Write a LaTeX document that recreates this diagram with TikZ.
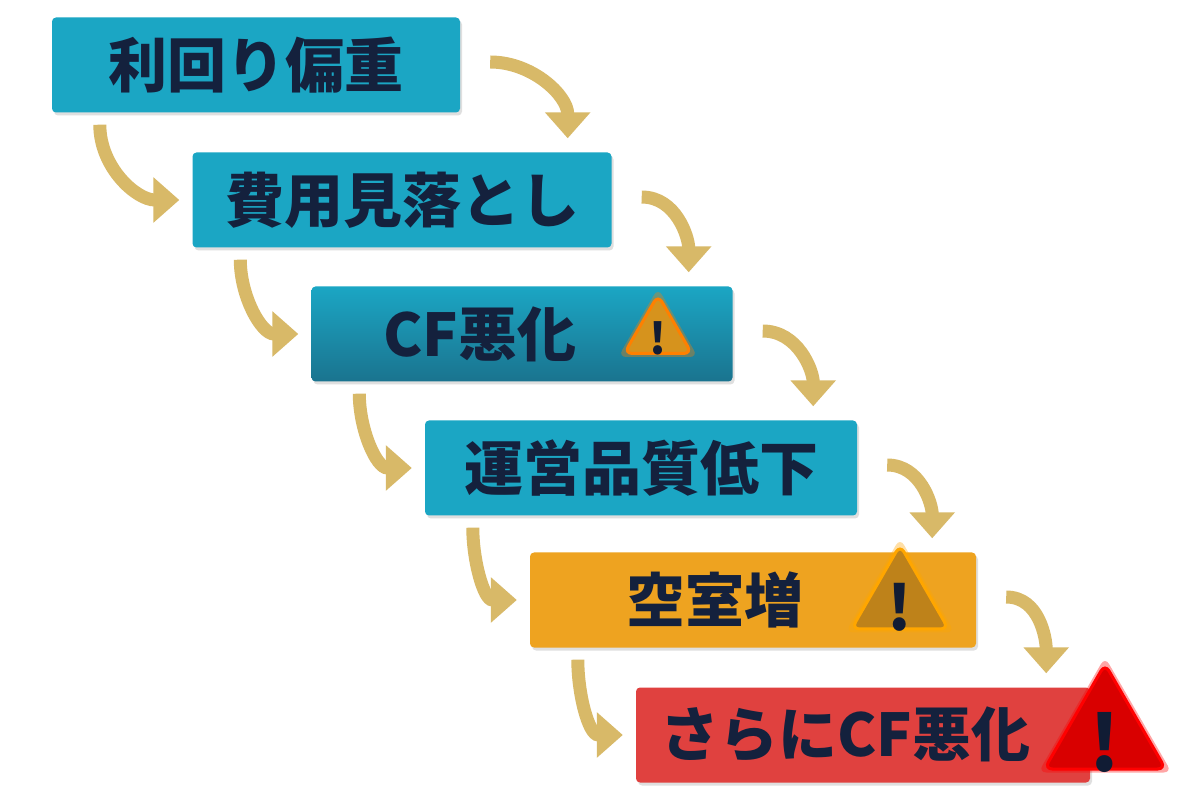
\documentclass[tikz,border=0pt]{standalone}
\usepackage{fontspec}
\setmainfont{Noto Sans CJK JP}
\usepackage{tikz}
\usetikzlibrary{arrows.meta,shapes.geometric,shadows}
\definecolor{teal}{HTML}{1BA6C4}
\definecolor{tealdark}{HTML}{1F88A8}
\definecolor{orng}{HTML}{EEA320}
\definecolor{redbox}{HTML}{E0413F}
\definecolor{gold}{HTML}{D8B968}
\definecolor{ink}{HTML}{14213D}
\tikzset{
  box/.style={rectangle,rounded corners=4pt,minimum height=95pt,inner sep=0pt,
    drop shadow={opacity=.25,shadow xshift=2pt,shadow yshift=-3pt}},
  lbl/.style={text=ink,font=\fontsize{59}{64}\selectfont\bfseries},
  flow/.style={gold,line width=13pt,-{Triangle[length=26pt,width=44pt]}},
  warn/.style={regular polygon,regular polygon sides=3,rounded corners=8pt,inner sep=0pt}
}
\newcommand{\warnicon}[5]{% name, center, size, fill, glow
  \pgfmathsetmacro{\wfs}{#3*0.55}
  \pgfmathsetmacro{\wdy}{#3*0.06}
  \node[warn,minimum size=#3pt+14pt,fill=#5,opacity=.35] at #2 {};
  \node[warn,minimum size=#3pt,fill=#4,draw=#5,line width=3pt] (#1) at #2 {};
  \node[text=ink!85!black,font=\fontsize{\wfs}{\wfs}\selectfont\bfseries]
    at ([yshift=-\wdy pt]#1.center) {!};
}
\begin{document}
\begin{tikzpicture}[x=1pt,y=1pt]
  \useasboundingbox[fill=white] (0,0) rectangle (1200,804);
  % boxes
  \node[box,fill=teal,minimum width=408pt] (b1) at (256,739) {};
  \node[box,fill=teal,minimum width=419pt] (b2) at (402,604) {};
  \node[box,top color=teal,bottom color=tealdark!85!black,minimum width=421pt] (b3) at (522,470) {};
  \node[box,fill=teal,minimum width=432pt] (b4) at (641,336) {};
  \node[box,fill=orng,minimum width=446pt] (b5) at (753,204) {};
  \node[box,fill=redbox,minimum width=454pt] (b6) at (863,69) {};
  % labels
  \node[lbl] (t1) at (b1.center) {利回り偏重};
  \node[lbl] (t2) at (b2.center) {費用見落とし};
  \node[lbl] (t3) at ([xshift=-42pt]b3.center) {CF悪化};
  \node[lbl] (t4) at (b4.center) {運営品質低下};
  \node[lbl] (t5) at ([xshift=-38pt]b5.center) {空室増};
  \node[lbl] (t6) at ([xshift=-18pt]b6.center) {さらにCF悪化};
  % warnings
  \warnicon{w3}{(658,470)}{78}{orng!90!black}{orange}
  \warnicon{w5}{(900,203)}{112}{orng!80!black}{orange!70!yellow}
  \warnicon{w6}{(1105,70)}{140}{red!85!black}{red}
  % arrows
  \foreach \a/\b in {b1/b2,b2/b3,b3/b4,b4/b5,b5/b6}{
    \draw[flow] ([xshift=30pt,yshift=3pt]\a.east) to[out=0,in=90]
      ([xshift=-44pt,yshift=14pt]\b.north east);
    \draw[flow] ([xshift=48pt,yshift=-12pt]\a.south west) to[out=-90,in=180]
      ([xshift=-13pt]\b.west);
  }
\end{tikzpicture}
\end{document}
